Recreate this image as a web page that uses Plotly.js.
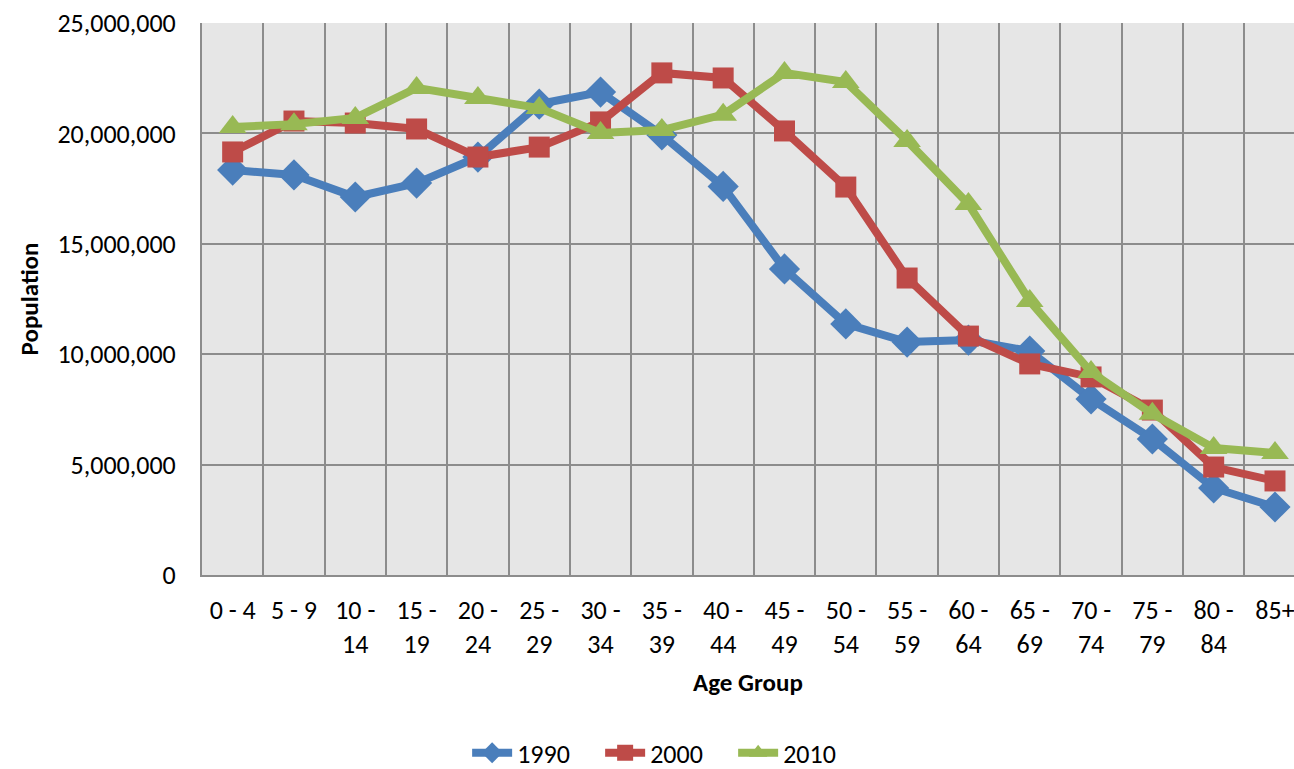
<!DOCTYPE html>
<html>
<head>
<meta charset="utf-8">
<script src="https://cdn.plot.ly/plotly-3.0.1.min.js"></script>
<style>html,body{margin:0;padding:0;background:#fff;}#chart{width:1294px;height:769px;}</style>
</head>
<body>
<div id="chart"></div>
<script>
const categories = ["0 - 4","5 - 9","10 - 14","15 - 19","20 - 24","25 - 29","30 - 34","35 - 39","40 - 44","45 - 49","50 - 54","55 - 59","60 - 64","65 - 69","70 - 74","75 - 79","80 - 84","85+"];
const tickLabels = ["0 - 4","5 - 9","10 -<br>14","15 -<br>19","20 -<br>24","25 -<br>29","30 -<br>34","35 -<br>39","40 -<br>44","45 -<br>49","50 -<br>54","55 -<br>59","60 -<br>64","65 -<br>69","70 -<br>74","75 -<br>79","80 -<br>84","85+"];
const pop1990 = [18340000,18120000,17120000,17750000,18930000,21330000,21870000,19930000,17600000,13860000,11370000,10550000,10640000,10140000,7970000,6160000,3940000,3080000];
const pop2000 = [19160000,20560000,20470000,20200000,18930000,19380000,20520000,22740000,22510000,20110000,17570000,13450000,10820000,9560000,8970000,7470000,4890000,4260000];
const pop2010 = [20290000,20420000,20700000,22060000,21600000,21150000,20020000,20150000,20850000,22740000,22330000,19660000,16800000,12410000,9190000,7300000,5750000,5530000];

const FONT = "Carlito, Lato, 'Liberation Sans', sans-serif";
const traces = [
  {name:"1990", x:categories, y:pop1990, type:"scatter", mode:"lines+markers",
   line:{color:"#4A7EBB", width:8}, marker:{symbol:"diamond", size:24, color:"#4A7EBB"}},
  {name:"2000", x:categories, y:pop2000, type:"scatter", mode:"lines+markers",
   line:{color:"#BE4B48", width:8}, marker:{symbol:"square", size:21, color:"#BE4B48"}},
  {name:"2010", x:categories, y:pop2010, type:"scatter", mode:"lines+markers",
   line:{color:"#98B954", width:8}, marker:{symbol:"triangle-up", size:24, color:"#98B954"}}
];
const layout = {
  width:1294, height:769,
  margin:{l:202, r:0, t:23, b:194},
  paper_bgcolor:"#ffffff", plot_bgcolor:"#E6E6E6",
  font:{family:FONT, size:26, color:"#000"},
  showlegend:true,
  legend:{orientation:"h", xref:"container", yref:"container", x:0.361, xanchor:"left", y:0.021, yanchor:"middle",
          font:{family:FONT, size:26, color:"#000"}, traceorder:"normal", itemwidth:40,
          entrywidth:78, entrywidthmode:"pixels"},
  xaxis:{type:"category", categoryorder:"array", categoryarray:categories,
         tickvals:categories, ticktext:tickLabels, tickson:"boundaries",
         range:[-0.5, 17.31], showgrid:true, gridcolor:"#8C8C8C", gridwidth:2,
         showline:true, linecolor:"#8C8C8C", linewidth:2, ticks:"", ticklabelstandoff:11,
         tickfont:{family:FONT, size:26, color:"#000"}, tickangle:0,
         title:{text:"<b>Age Group</b>", font:{family:FONT, size:25, color:"#000"}, standoff:14}, fixedrange:true},
  yaxis:{range:[0,25000000], tickvals:[0,5000000,10000000,15000000,20000000,25000000],
         ticktext:["0","5,000,000","10,000,000","15,000,000","20,000,000","25,000,000"],
         showgrid:true, gridcolor:"#8C8C8C", gridwidth:2, zeroline:false,
         showline:true, linecolor:"#8C8C8C", linewidth:2, ticks:"", ticklabelstandoff:19,
         tickfont:{family:FONT, size:26, color:"#000"},
         title:{text:"<b>Population</b>", font:{family:FONT, size:25, color:"#000"}, standoff:12}, fixedrange:true}
};
Plotly.newPlot("chart", traces, layout, {displayModeBar:false, staticPlot:true});
</script>
</body>
</html>
